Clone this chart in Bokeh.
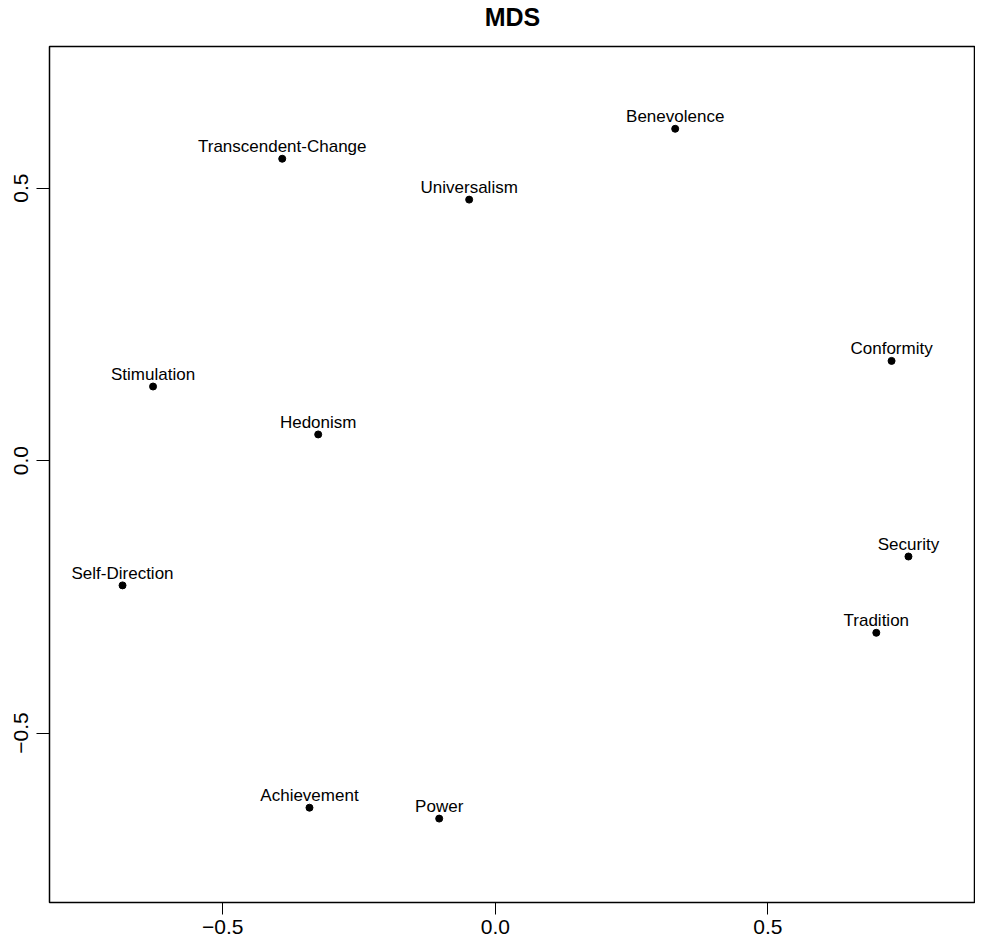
from bokeh.plotting import figure
from bokeh.models import ColumnDataSource, FixedTicker, Range1d, Title
from bokeh.core.properties import value
from bokeh.embed import file_html
from bokeh.resources import INLINE

labels = ["Transcendent-Change", "Universalism", "Benevolence", "Stimulation",
          "Hedonism", "Conformity", "Self-Direction", "Achievement", "Power",
          "Security", "Tradition"]
dim1 = [-0.391, -0.048, 0.330, -0.628, -0.325, 0.727, -0.684, -0.341, -0.103, 0.758, 0.699]
dim2 = [0.554, 0.479, 0.609, 0.136, 0.048, 0.183, -0.229, -0.637, -0.657, -0.176, -0.316]

tick_values = [-0.5, 0.0, 0.5]
tick_labels = ["\u22120.5", "0.0", "0.5"]
title_text = "MDS"

FONT = "Liberation Sans"

src = ColumnDataSource(dict(x=dim1, y=dim2, name=labels))

p = figure(width=975, height=938, output_backend="svg", toolbar_location=None,
           x_range=Range1d(-0.818, 0.881), y_range=Range1d(-0.811, 0.760),
           title=title_text, min_border_left=49, min_border_right=0,
           min_border_top=46, min_border_bottom=36)

# spacer panel between the frame and the title (pushes title upward)
spacer = Title(text=" ", text_font_size="10px", standoff=1, text_color="white")
p.add_layout(spacer, "above")

p.title.text_font = FONT
p.title.text_font_size = "25px"
p.title.text_font_style = "bold"
p.title.align = "center"
p.title.vertical_align = "top"
p.title.standoff = 0
p.title.text_color = "black"

p.background_fill_color = "white"
p.border_fill_color = "white"
p.outline_line_color = "black"
p.outline_line_width = 1.5
p.xgrid.visible = False
p.ygrid.visible = False

for ax in (p.xaxis[0], p.yaxis[0]):
    ax.ticker = FixedTicker(ticks=tick_values)
    ax.major_label_overrides = {v: s for v, s in zip(tick_values, tick_labels)}
    ax.axis_line_color = None
    ax.minor_tick_line_color = None
    ax.major_tick_in = 0
    ax.major_tick_line_color = "black"
    ax.major_tick_line_width = 1
    ax.major_label_text_font = FONT
    ax.major_label_text_font_size = "21px"
    ax.major_label_text_color = "black"

p.xaxis.major_tick_out = 12
p.xaxis.major_label_standoff = 5
p.yaxis.major_tick_out = 13
p.yaxis.major_label_standoff = 8
p.yaxis.major_label_orientation = "vertical"

p.scatter("x", "y", source=src, size=7, color="black")
p.text("x", "y", text="name", source=src, text_align="center",
       text_baseline="alphabetic", y_offset=-12,
       text_font=value(FONT), text_font_size="17px", text_color="black")

open("out.html", "w").write(file_html(p, INLINE))
